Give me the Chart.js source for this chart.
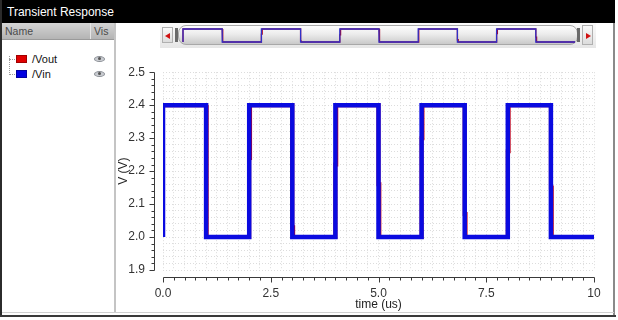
<!DOCTYPE html>
<html>
<head>
<meta charset="utf-8">
<script src="https://cdn.jsdelivr.net/npm/chart.js@4"></script>
<style>
html,body{margin:0;padding:0;}
body{width:618px;height:320px;position:relative;overflow:hidden;background:#fff;font-family:'Liberation Sans',Arial,sans-serif;}
#titlebar{position:absolute;left:0;top:0;width:615px;height:23px;background:#000;color:#fff;font-size:12px;line-height:24px;padding-left:7px;box-sizing:border-box;}
#frameL{position:absolute;left:0;top:0;width:2px;height:317px;background:#2b2b2b;}
#frameB{position:absolute;left:0;top:315px;width:616px;height:2px;background:#3a3a3a;}
#frameB2{position:absolute;left:2px;top:312px;width:612px;height:1px;background:#d0d0d0;}
#frameR{position:absolute;left:613px;top:23px;width:2px;height:294px;background:#8a8a8a;}
#panel{position:absolute;left:2px;top:23px;width:112px;height:289px;background:#fff;border-right:2px solid #c4c4c4;}
#hdr{position:absolute;left:0;top:0;width:112px;height:16px;background:linear-gradient(#d4d4d4,#b4b4b4);border-bottom:1px solid #9a9a9a;color:#4a4a4a;font-size:10.5px;line-height:16px;}
#hdr .n{position:absolute;left:3px;top:0;}
#hdr .v{position:absolute;left:88px;top:0;padding-left:3px;border-left:1px solid #e6e6e6;height:16px;}
.tree{position:absolute;border-color:#9a9a9a;border-style:dotted;border-width:0;}
.sw{position:absolute;left:14px;width:11px;height:8px;box-sizing:border-box;}
.lbl{position:absolute;left:30px;font-size:11px;color:#111;line-height:14px;}
.eye{position:absolute;left:92px;width:11px;height:6px;border-radius:50%;background:#c8cbd0;border:1px solid #8c9096;box-sizing:border-box;}
.eye i{position:absolute;left:3px;top:0px;width:3px;height:3px;border-radius:50%;background:#555;}
#scroll{position:absolute;left:160px;top:23px;width:436px;height:25px;background:linear-gradient(#fbfbfb,#e6e6e6);}
#trough{position:absolute;left:18px;top:2px;width:400px;height:20px;border-radius:8px;background:linear-gradient(#fdfdfd 0%,#ececec 45%,#c9c9c9 100%);border:1px solid #a8a8a8;box-sizing:border-box;}
.btn{position:absolute;top:4px;width:11px;height:16px;background:linear-gradient(#fafafa,#dcdcdc);border:1px solid #b0b0b0;box-sizing:border-box;}
.grip{position:absolute;top:5px;width:3px;height:14px;background:#6a6a6a;}
.tri{position:absolute;top:5px;width:0;height:0;border-top:3px solid transparent;border-bottom:3px solid transparent;}
#mini{position:absolute;left:180px;top:26px;}
#main{position:absolute;left:116px;top:47px;}
</style>
</head>
<body>
<div id="titlebar">Transient Response</div>
<div id="panel">
  <div id="hdr"><span class="n">Name</span><span class="v">Vis</span></div>
  <div class="tree" style="left:7px;top:33px;height:19px;border-left-width:1px;"></div>
  <div class="tree" style="left:7px;top:36px;width:6px;border-top-width:1px;"></div>
  <div class="tree" style="left:7px;top:51px;width:6px;border-top-width:1px;"></div>
  <div class="sw" style="top:32px;background:#e00000;border:1px solid #a00000;"></div>
  <div class="lbl" style="top:29px;">/Vout</div>
  <div class="eye" style="top:33px;"><i></i></div>
  <div class="sw" style="top:47px;background:#0000e0;border:1px solid #0000a0;"></div>
  <div class="lbl" style="top:44px;">/Vin</div>
  <div class="eye" style="top:48px;"><i></i></div>
</div>
<div id="scroll">
  <div class="btn" style="left:2px;"><div class="tri" style="left:2px;border-right:5px solid #d01010;"></div></div>
  <div class="grip" style="left:15px;"></div>
  <div id="trough"></div>
  <div class="grip" style="left:417px;"></div>
  <div class="btn" style="left:422px;top:2px;height:20px;"><div class="tri" style="left:3px;top:7px;border-left:5px solid #d01010;"></div></div>
</div>
<canvas id="mini" width="398" height="19"></canvas>
<canvas id="main" width="502" height="270"></canvas>
<div id="frameL"></div>
<div id="frameR"></div>
<div id="frameB2"></div>
<div id="frameB"></div>
<script>
// ---- data ----
const vinTime = [0,0,1,1,2,2,3,3,4,4,5,5,6,6,7,7,8,8,9,9,10];
const vinVolt = [2.0,2.4,2.4,2.0,2.0,2.4,2.4,2.0,2.0,2.4,2.4,2.0,2.0,2.4,2.4,2.0,2.0,2.4,2.4,2.0,2.0];
const voutTime = [0,0,1,1,1.02,1.02,2,2,2.02,2.02,3,3,3.02,3.02,4,4,4.02,4.02,5,5,5.02,5.02,6,6,6.02,6.02,7,7,7.02,7.02,8,8,8.02,8.02,9,9,9.02,9.02,10];
const voutVolt = [2.0,2.4,2.4,2.27,2.27,2.0,2.0,2.24,2.24,2.4,2.4,2.03,2.03,2.0,2.0,2.22,2.22,2.4,2.4,2.16,2.16,2.0,2.0,2.3,2.3,2.4,2.4,2.07,2.07,2.0,2.0,2.26,2.26,2.4,2.4,2.15,2.15,2.0,2.0];
const xMin = 0, xMax = 10, xStep = 0.25, xMajor = 2.5;
const yMin = 1.9, yMax = 2.5, yStep = 0.02, yMajor = 0.1;
const xTitle = 'time (us)';
const yTitle = 'V (V)';
const seriesNames = ['/Vin', '/Vout'];

const toPts = (t, v) => t.map((x, i) => ({x: x, y: v[i]}));
const isMul = (v, m) => Math.abs(v / m - Math.round(v / m)) < 1e-6;

Chart.defaults.font.family = "'Liberation Sans', Arial, sans-serif";
Chart.defaults.font.size = 12;
Chart.defaults.color = '#333';

const axesPlugin = {
  id: 'cadenceAxes',
  afterDraw(chart) {
    const {ctx, chartArea: a, scales: {x, y}} = chart;
    ctx.save();
    ctx.strokeStyle = '#3a3a3a';
    ctx.lineWidth = 1;
    ctx.beginPath();
    const ax = Math.round(a.left - 9) + 0.5;
    ctx.moveTo(ax, Math.round(a.top) + 0.5);
    ctx.lineTo(ax, Math.round(a.bottom) + 0.5);
    y.ticks.forEach(t => {
      const py = Math.round(y.getPixelForValue(t.value)) + 0.5;
      const len = isMul(t.value, yMajor) ? 5 : 3;
      ctx.moveTo(ax - len, py); ctx.lineTo(ax, py);
    });
    const ay = Math.round(a.bottom + 7) + 0.5;
    ctx.moveTo(Math.round(a.left) + 0.5, ay);
    ctx.lineTo(Math.round(a.right) + 0.5, ay);
    x.ticks.forEach(t => {
      const px = Math.round(x.getPixelForValue(t.value)) + 0.5;
      const len = isMul(t.value, xMajor) ? 5 : 3;
      ctx.moveTo(px, ay); ctx.lineTo(px, ay + len);
    });
    ctx.stroke();
    ctx.restore();
  }
};

new Chart(document.getElementById('main'), {
  type: 'line',
  data: {
    datasets: [
      {label: seriesNames[0], data: toPts(vinTime, vinVolt), borderColor: '#0a0ae0', borderWidth: 4.5, pointRadius: 0, tension: 0, order: 0, borderJoinStyle: 'miter', borderCapStyle: 'butt'},
      {label: seriesNames[1], data: toPts(voutTime, voutVolt), borderColor: '#c80010', borderWidth: 4, pointRadius: 0, tension: 0, order: 1, borderJoinStyle: 'miter', borderCapStyle: 'butt'}
    ]
  },
  options: {
    responsive: false,
    animation: false,
    events: [],
    layout: {padding: {left: 0, right: 24, top: 6, bottom: 0}},
    plugins: {legend: {display: false}, tooltip: {enabled: false}},
    scales: {
      x: {
        type: 'linear', min: xMin, max: xMax,
        afterFit: s => { s.height = 47; },
        grid: {color: '#dcdcdc', lineWidth: 1, drawTicks: false},
        border: {display: false, dash: [1, 2]},
        ticks: {stepSize: xStep, autoSkip: false, maxRotation: 0, minRotation: 0, padding: 16, color: '#333',
          callback: v => isMul(v, xMajor) ? (v === 10 ? '10' : v.toFixed(1)) : ''},
        title: {display: true, text: xTitle, color: '#222', padding: {top: 0, bottom: 5}, font: {size: 12}}
      },
      y: {
        type: 'linear', min: yMin, max: yMax,
        afterFit: s => { s.width = 47; },
        grid: {color: '#dcdcdc', lineWidth: 1, drawTicks: false},
        border: {display: false, dash: [1, 2]},
        ticks: {stepSize: yStep, autoSkip: false, padding: 18, color: '#333',
          callback: v => isMul(v, yMajor) ? v.toFixed(1) : ''},
        title: {display: true, text: yTitle, color: '#222', padding: {top: 0, bottom: 0}, font: {size: 12}}
      }
    }
  },
  plugins: [axesPlugin]
});

new Chart(document.getElementById('mini'), {
  type: 'line',
  data: {
    datasets: [
      {data: toPts(vinTime, vinVolt), borderColor: '#3030c8', borderWidth: 1.3, pointRadius: 0, tension: 0, order: 0, clip: false},
      {data: toPts(voutTime, voutVolt), borderColor: '#b00020', borderWidth: 1.3, pointRadius: 0, tension: 0, order: 1, clip: false}
    ]
  },
  options: {
    responsive: false,
    animation: false,
    events: [],
    layout: {padding: 3},
    plugins: {legend: {display: false}, tooltip: {enabled: false}},
    scales: {
      x: {type: 'linear', min: xMin, max: xMax, display: false},
      y: {type: 'linear', min: 2.0, max: 2.4, display: false}
    }
  }
});
</script>
</body>
</html>
